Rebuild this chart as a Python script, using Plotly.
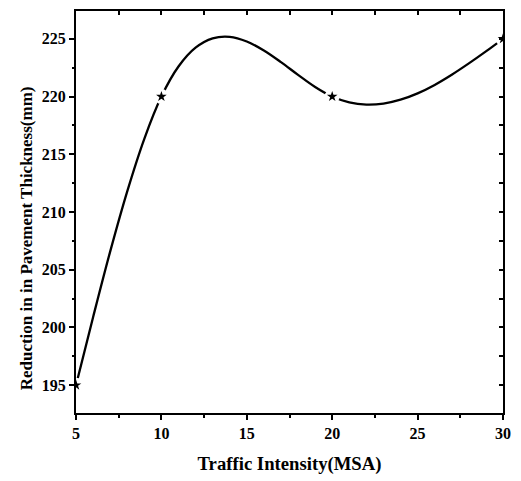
import plotly.graph_objects as go

# measured data points
traffic = [5, 10, 20, 30]
reduction = [195, 220, 220, 225]

# smooth fitted curve
curve_x = [5, 6, 7, 8, 9, 10, 11, 12, 13, 14, 15, 16, 17, 18, 19, 20,
           21, 22, 23, 24, 25, 26, 27, 28, 29, 30]
curve_y = [195.00, 200.89, 206.57, 211.79, 216.34, 220.00, 222.60, 224.23,
           225.04, 225.17, 224.77, 223.99, 222.98, 221.88, 220.83, 220.00,
           219.49, 219.30, 219.39, 219.73, 220.28, 221.01, 221.89, 222.87,
           223.91, 225.00]

x_ticks = [5, 10, 15, 20, 25, 30]
y_ticks = [195, 200, 205, 210, 215, 220, 225]

FONT = "Liberation Serif"

fig = go.Figure()
fig.add_trace(go.Scatter(
    x=curve_x, y=curve_y, mode="lines",
    line=dict(color="black", width=2.3, shape="spline", smoothing=1.0),
    showlegend=False, hoverinfo="skip",
))
# white gap around each symbol (as in the original plotting software)
fig.add_trace(go.Scatter(
    x=traffic, y=reduction, mode="markers",
    marker=dict(symbol="circle", size=15, color="white"),
    showlegend=False, hoverinfo="skip",
))
fig.add_trace(go.Scatter(
    x=traffic, y=reduction, mode="markers",
    marker=dict(symbol="star", size=8, color="black"),
    showlegend=False,
))
fig.add_trace(go.Scatter(
    x=traffic, y=reduction, mode="markers", xaxis="x2", yaxis="y2",
    marker=dict(opacity=0), showlegend=False, hoverinfo="skip",
))

axis_common = dict(showgrid=False, zeroline=False, showline=True,
                   linecolor="black", linewidth=2, tickcolor="black",
                   tickwidth=2)
fig.update_layout(
    width=521, height=481,
    margin=dict(l=76, r=10, t=11, b=65),
    plot_bgcolor="white", paper_bgcolor="white",
    font=dict(family=FONT, color="black"),
    xaxis=dict(range=[5, 30], tickvals=x_ticks,
               ticktext=[f"<b>{v}</b>" for v in x_ticks],
               ticks="outside", ticklen=5,
               minor=dict(dtick=2.5, ticks="outside", ticklen=3,
                          tickwidth=2, tickcolor="black"),
               tickfont=dict(size=16, family=FONT),
               title=dict(text="<b>Traffic Intensity(MSA)</b>",
                          font=dict(size=18.7, family=FONT), standoff=16),
               **axis_common),
    yaxis=dict(range=[192.59, 227.41], tickvals=y_ticks,
               ticktext=[f"<b>{v}</b>" for v in y_ticks],
               ticks="outside", ticklen=5,
               minor=dict(dtick=2.5, ticks="outside", ticklen=2,
                          tickwidth=2, tickcolor="black"),
               tickfont=dict(size=16, family=FONT),
               **axis_common),
    xaxis2=dict(overlaying="x", side="top", matches="x", range=[5, 30],
                dtick=2.5, tick0=5, ticks="inside", ticklen=4,
                showticklabels=False, **axis_common),
    yaxis2=dict(overlaying="y", side="right", matches="y",
                range=[192.59, 227.41], dtick=2.5, tick0=195,
                ticks="inside", ticklen=4, showticklabels=False,
                **axis_common),
    annotations=[dict(
        text="<b>Reduction in in Pavement Thickness(mm)</b>",
        xref="paper", yref="paper", x=-0.117, y=0.4346,
        xanchor="center", yanchor="middle", textangle=-90, showarrow=False,
        font=dict(size=17, family=FONT, color="black"),
    )],
)
fig.write_html("out.html")
